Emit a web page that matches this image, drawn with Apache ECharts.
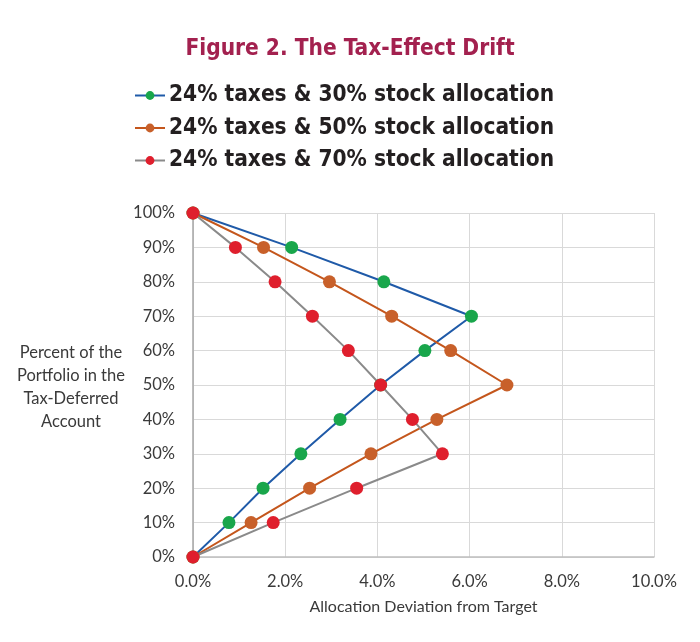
<!DOCTYPE html>
<html>
<head>
<meta charset="utf-8">
<script src="https://cdn.jsdelivr.net/npm/echarts@6/dist/echarts.min.js"></script>
<style>
  html, body { margin: 0; padding: 0; background: #fff; }
  #main { width: 700px; height: 642px; }
</style>
</head>
<body>
<div id="main"></div>
<script>
// share of portfolio in tax-deferred account (%)
var shares = [0, 10, 20, 30, 40, 50, 60, 70, 80, 90, 100];
// allocation deviation from target (%)
var dev30 = [0, 0.78, 1.52, 2.34, 3.19, 4.07, 5.03, 6.04, 4.14, 2.14, 0];
var dev50 = [0, 1.26, 2.53, 3.86, 5.29, 6.81, 5.59, 4.31, 2.96, 1.53, 0];
var dev70 = [0, 1.74, 3.55, 5.41, 4.76, 4.07, 3.37, 2.59, 1.78, 0.92, 0];
var names = [
  "24% taxes & 30% stock allocation",
  "24% taxes & 50% stock allocation",
  "24% taxes & 70% stock allocation"
];

function pairs(dev) {
  return dev.map(function (d, i) {
    return [d, shares[i]];
  });
}

var condensed = "'Liberation Sans Narrow', 'DejaVu Sans Condensed', 'Roboto', sans-serif";
var plain = "Lato, 'Open Sans', sans-serif";

function makeSeries(name, dev, lineColor, dotColor) {
  return {
    name: name,
    type: "line",
    data: pairs(dev),
    symbol: "circle",
    symbolSize: 13,
    lineStyle: { color: lineColor, width: 2 },
    itemStyle: { color: dotColor },
    emphasis: { disabled: true },
    animation: false,
  };
}

var myChart = echarts.init(document.getElementById("main"));
myChart.setOption({
  title: {
    text: "Figure 2. The Tax-Effect Drift",
    left: "center",
    top: 33,
    textStyle: {
      fontFamily: condensed,
      fontWeight: "bold",
      fontSize: 22.5,
      color: "#a3214f",
    },
  },
  legend: {
    orient: "vertical",
    left: 129,
    top: 79,
    itemWidth: 30,
    itemHeight: 11,
    itemGap: 9.5,
    data: names,
    textStyle: {
      fontFamily: condensed,
      fontWeight: "bold",
      fontSize: 22.5,
      color: "#231f20",
      padding: [0, 0, 0, -1],
    },
  },
  grid: {
    left: 193,
    right: 46,
    top: 213,
    bottom: 85,
  },
  xAxis: {
    type: "value",
    min: 0,
    max: 10,
    interval: 2,
    name: "Allocation Deviation from Target",
    nameLocation: "middle",
    nameGap: 42,
    nameTextStyle: { fontFamily: plain, fontSize: 16, color: "#3a3a3a" },
    axisLine: { show: true, lineStyle: { color: "#bfbfbf", width: 1.5 } },
    axisTick: { show: false },
    splitLine: { lineStyle: { color: "#d9d9d9" } },
    axisLabel: {
      margin: 16,
      fontFamily: plain,
      fontSize: 16.5,
      color: "#3a3a3a",
      formatter: function (v) {
        return v.toFixed(1) + "%";
      },
    },
  },
  yAxis: {
    type: "value",
    min: 0,
    max: 100,
    interval: 10,
    axisLine: { show: true, lineStyle: { color: "#a6a6a6", width: 1.5 } },
    axisTick: { show: false },
    splitLine: { lineStyle: { color: "#d9d9d9" } },
    axisLabel: {
      margin: 18,
      fontFamily: plain,
      fontSize: 16.5,
      color: "#3a3a3a",
      formatter: "{value}%",
    },
  },
  graphic: [
    {
      type: "text",
      x: 71,
      y: 341,
      style: {
        text: "Percent of the\nPortfolio in the\nTax-Deferred\nAccount",
        align: "center",
        textAlign: "center",
        lineHeight: 23,
        font: "16.5px " + plain,
        fill: "#3a3a3a",
      },
    },
  ],
  series: [
    makeSeries(names[0], dev30, "#1f5aa8", "#19a64b"),
    makeSeries(names[1], dev50, "#c4561c", "#c8602a"),
    makeSeries(names[2], dev70, "#8a8a8a", "#df1f2d"),
  ],
});
</script>
</body>
</html>
